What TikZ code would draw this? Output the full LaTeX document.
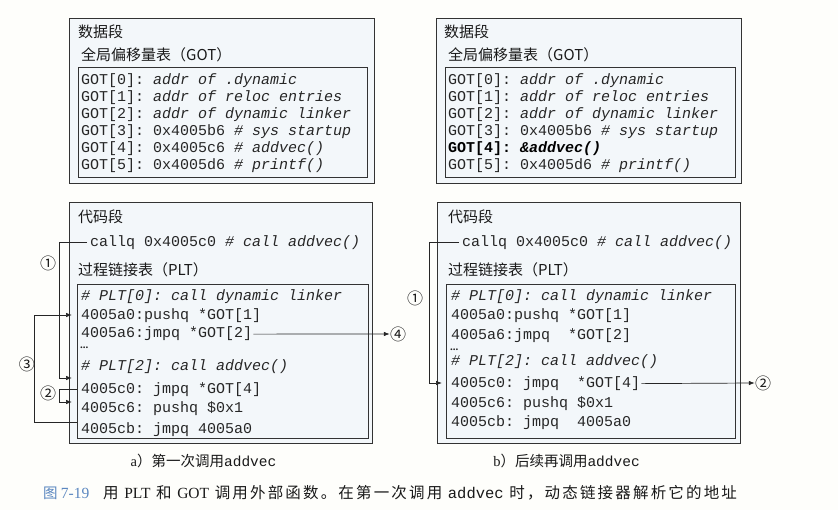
\documentclass[tikz,border=0pt]{standalone}
\usepackage{fontspec}
\setmainfont{Liberation Serif}
\setmonofont{Liberation Mono}
\newfontfamily\cjk{Noto Sans CJK SC}
\newfontfamily\cjkwide[LetterSpace=14]{Noto Sans CJK SC}
\usetikzlibrary{fit,arrows.meta}
\definecolor{boxfill}{HTML}{F3F7FA}
\definecolor{pagebg}{HTML}{FEFEFB}
\definecolor{capblue}{HTML}{5B87C0}
\tikzset{
  box/.style={draw=black!80, line width=0.9pt, fill=boxfill, inner sep=0pt},
  mono/.style={font=\fontsize{15}{17}\selectfont\ttfamily, inner sep=0pt, anchor=base west, text=black!85},
  cn/.style={font=\fontsize{15}{17}\selectfont\cjk, inner sep=0pt, anchor=west, text=black!90},
  lab/.style={font=\fontsize{16}{16}\selectfont\cjk, inner sep=0pt, text=black!90},
  conn/.style={line width=0.7pt, draw=black!85},
  arr/.style={conn, -{Latex[length=6pt,width=4.5pt]}},
  dotsn/.style={inner sep=0pt, font=\fontsize{11}{11}\selectfont\bfseries, anchor=base west, text=black!85},
  capn/.style={inner sep=0pt, font=\fontsize{14.5}{16}\selectfont\cjk, text=black!90},
  figcapn/.style={inner sep=0pt, font=\fontsize{15.5}{17}\selectfont\cjkwide, text=black!90}
}
\begin{document}
\begin{tikzpicture}[x=1pt,y=-1pt]
\fill[pagebg] (0,0) rectangle (838,510);
\useasboundingbox (0,0) rectangle (838,510);

% ================= Panel a =================
\node[box, fit={(69,18) (374,183)}] (dataA) {};
\node[cn] (dsA) at (78,32) {数据段};
\node[cn] (gtA) at (81,55) {全局偏移量表（GOT）};
\node[box, fit={(78,67) (367,177)}] (gotA) {};
\node[mono] (gA0) at (81,84.5) {GOT[0]: \textit{addr of .dynamic}};
\node[mono] (gA1) at (81,101.6) {GOT[1]: \textit{addr of reloc entries}};
\node[mono] (gA2) at (81,118.7) {GOT[2]: \textit{addr of dynamic linker}};
\node[mono] (gA3) at (81,135.8) {GOT[3]: 0x4005b6 \textit{\# sys startup}};
\node[mono] (gA4) at (81,152.9) {GOT[4]: 0x4005c6 \textit{\# addvec()}};
\node[mono] (gA5) at (81,170) {GOT[5]: 0x4005d6 \textit{\# printf()}};

\node[box, fit={(69,202) (372,443)}] (codeA) {};
\node[cn] (cdA) at (78,217) {代码段};
\node[mono] (callA) at (90,246.5) {callq 0x4005c0 \textit{\# call addvec()}};
\node[cn] (ptA) at (78,270) {过程链接表（PLT）};
\node[box, fit={(77,284) (368,438)}] (pltA) {};
\node[mono] (pA0) at (81,301) {\textit{\# PLT[0]: call dynamic linker}};
\node[mono] (pA1) at (81,319.5) {4005a0:pushq *GOT[1]};
\node[mono] (pA2) at (81,338) {4005a6:jmpq *GOT[2]};
\node[dotsn] (dA) at (80,348.5) {...};
\node[mono] (pA3) at (81,370.5) {\textit{\# PLT[2]: call addvec()}};
\node[mono] (pA4) at (81,393.5) {4005c0: jmpq *GOT[4]};
\node[mono] (pA5) at (81,413) {4005c6: pushq \$0x1};
\node[mono] (pA6) at (81,433) {4005cb: jmpq 4005a0};

\node[lab] (a1) at (48,263) {①};
\node[lab] (a2) at (48,393) {②};
\node[lab] (a3) at (27,364) {③};
\node[lab] (a4) at (398,334) {④};

\coordinate (a1end) at (72,378);
\coordinate (a2beg) at (77,389);
\coordinate (a2end) at (72,402);
\coordinate (a3beg) at (77,422);
\coordinate (a3end) at (72,315);

\draw[arr] ([xshift=-3pt]callA.west) -| (59.3,378) -- (a1end);
\draw[arr] (a2beg) -| (59.3,402) -- (a2end);
\draw[arr] (a3beg) -| (34,315) -- (a3end);
\draw[arr] ([xshift=1pt]pA2.east) -- (a4.west);

\node[capn] (capA) at (203.5,461) {{\rmfamily a}）第一次调用{\ttfamily addvec}};

% ================= Panel b =================
\node[box, fit={(436,18) (741,183)}] (dataB) {};
\node[cn] (dsB) at (444,32) {数据段};
\node[cn] (gtB) at (448,55) {全局偏移量表（GOT）};
\node[box, fit={(445,67) (735,177)}] (gotB) {};
\node[mono] (gB0) at (448,84.5) {GOT[0]: \textit{addr of .dynamic}};
\node[mono] (gB1) at (448,101.6) {GOT[1]: \textit{addr of reloc entries}};
\node[mono] (gB2) at (448,118.7) {GOT[2]: \textit{addr of dynamic linker}};
\node[mono] (gB3) at (448,135.8) {GOT[3]: 0x4005b6 \textit{\# sys startup}};
\node[mono, text=black] (gB4) at (448,152.9) {\bfseries GOT[4]: \textit{\&addvec()}};
\node[mono] (gB5) at (448,170) {GOT[5]: 0x4005d6 \textit{\# printf()}};

\node[box, fit={(437,202) (740,443)}] (codeB) {};
\node[cn] (cdB) at (448,217) {代码段};
\node[mono] (callB) at (462,246.5) {callq 0x4005c0 \textit{\# call addvec()}};
\node[cn] (ptB) at (448,270) {过程链接表（PLT）};
\node[box, fit={(446,284) (735,438)}] (pltB) {};
\node[mono] (pB0) at (451,301) {\textit{\# PLT[0]: call dynamic linker}};
\node[mono] (pB1) at (451,319.5) {4005a0:pushq *GOT[1]};
\node[mono] (pB2) at (451,340) {4005a6:jmpq~~*GOT[2]};
\node[dotsn] (dB) at (450,350.5) {...};
\node[mono] (pB3) at (451,366) {\textit{\# PLT[2]: call addvec()}};
\node[mono] (pB4) at (451,387.5) {4005c0: jmpq~~*GOT[4]};
\node[mono] (pB5) at (451,407.5) {4005c6: pushq \$0x1};
\node[mono] (pB6) at (451,426.5) {4005cb: jmpq~~4005a0};

\node[lab] (b1) at (415,298) {①};
\node[lab] (b2) at (763,383) {②};
\coordinate (b1end) at (442,383);
\draw[arr] ([xshift=-3pt]callB.west) -| (429,383) -- (b1end);
\draw[arr] ([xshift=1pt]pB4.east) -- (b2.west);

\node[capn] (capB) at (566.5,461) {{\rmfamily b}）后续再调用{\ttfamily addvec}};

% ================= Figure caption =================
\node[capn, anchor=west, text=capblue] (figno) at (43,493) {图 {\rmfamily\fontsize{15.5}{17}\selectfont 7-19}};
\node[figcapn, anchor=west] (figcap) at (103,493) {用 {\rmfamily PLT} 和 {\rmfamily GOT} 调用外部函数。在第一次调用 {\ttfamily addvec} 时，动态链接器解析它的地址};
\end{tikzpicture}
\end{document}
